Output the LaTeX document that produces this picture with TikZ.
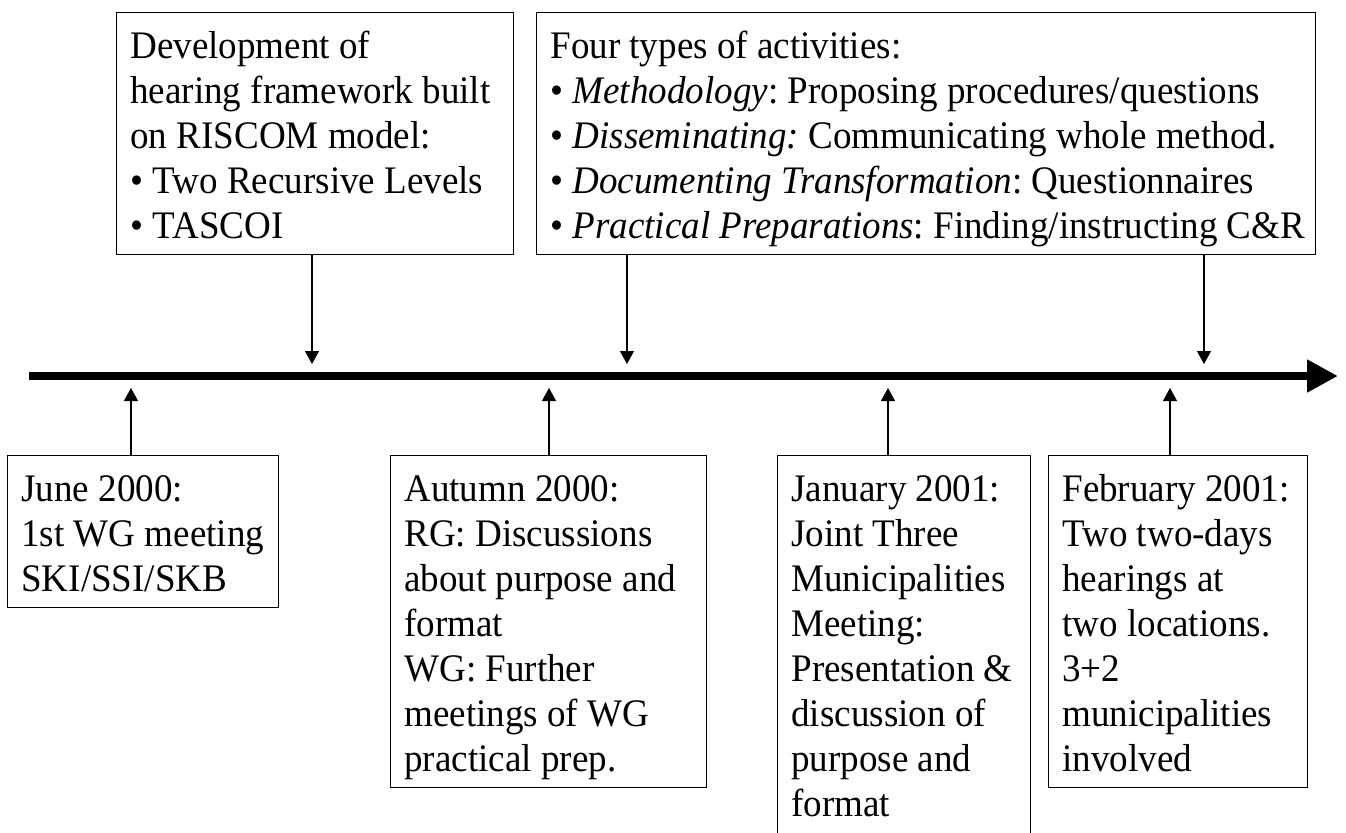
\documentclass[tikz,border=0pt]{standalone}
\usepackage{fontspec}
\setmainfont[FakeStretch=0.95]{Liberation Serif}
\frenchspacing
\usetikzlibrary{arrows.meta}
\begin{document}
\begin{tikzpicture}[x=0.5pt,y=-0.5pt,
  box/.style={draw, line width=0.7pt, inner sep=0pt, anchor=north west},
  txt/.style={anchor=north west, inner sep=0pt, align=left, xshift=7pt, yshift=-7.25pt,
              font=\fontsize{19.5pt}{22.5pt}\selectfont},
  conn/.style={line width=0.6pt, -{Triangle[length=6.5pt,width=7pt]}},
  axis/.style={line width=4pt, -{Triangle[length=15.5pt,width=15.5pt]}}]
\useasboundingbox (0,0) rectangle (1346,832);
\clip (0,0) rectangle (1346,832);

% upper boxes
\node[box, minimum width=198.5pt, minimum height=121pt] (dev) at (116,12) {};
\node[txt] (devTxt) at (dev.north west) {\strut Development of\\hearing framework built\\on RISCOM model:\\• Two Recursive Levels\\• TASCOI};

\node[box, minimum width=389.5pt, minimum height=121pt] (act) at (536,12) {};
\node[txt] (actTxt) at (act.north west) {\strut Four types of activities:\\
  • \textit{Methodology}: Proposing procedures/questions\\
  • \textit{Disseminating:} Communicating whole method.\\
  • \textit{Documenting Transformation}: Questionnaires\\
  • \textit{Practical Preparations}: Finding/instructing C\&R};

% lower boxes
\node[box, minimum width=135.5pt, minimum height=76pt] (june) at (7,455) {};
\node[txt] (juneTxt) at (june.north west) {\strut June 2000:\\1st WG meeting\\SKI/SSI/SKB};

\node[box, minimum width=158pt, minimum height=166pt] (autumn) at (390,455) {};
\node[txt] (autumnTxt) at (autumn.north west) {\strut Autumn 2000:\\RG: Discussions\\about purpose and\\format\\WG: Further\\meetings of WG\\practical prep.};

\node[box, minimum width=126.5pt, minimum height=192.5pt] (jan) at (777,455) {};
\node[txt] (janTxt) at (jan.north west) {\strut January 2001:\\Joint Three\\Municipalities\\Meeting:\\Presentation \&\\discussion of\\purpose and\\format};

\node[box, minimum width=129.5pt, minimum height=166pt] (feb) at (1048,455) {};
\node[txt] (febTxt) at (feb.north west) {\strut February 2001:\\Two two-days\\hearings at\\two locations.\\3+2\\municipalities\\involved};

% time axis
\coordinate (t0) at (29,376);
\coordinate (t1) at (1338,376);
\draw[axis] (t0) -- (t1);

% arrows from above
\coordinate (dDev) at (312,364);
\coordinate (dAct) at (627,364);
\coordinate (dPrep) at (1204,364);
\draw[conn] (dev.south -| dDev) -- (dDev);
\draw[conn] (act.south -| dAct) -- (dAct);
\draw[conn] (act.south -| dPrep) -- (dPrep);

% arrows from below
\coordinate (uJune) at (131,388);
\coordinate (uAutumn) at (549,388);
\coordinate (uJan) at (888,388);
\coordinate (uFeb) at (1170,388);
\draw[conn] (june.north -| uJune) -- (uJune);
\draw[conn] (autumn.north -| uAutumn) -- (uAutumn);
\draw[conn] (jan.north -| uJan) -- (uJan);
\draw[conn] (feb.north -| uFeb) -- (uFeb);
\end{tikzpicture}
\end{document}
